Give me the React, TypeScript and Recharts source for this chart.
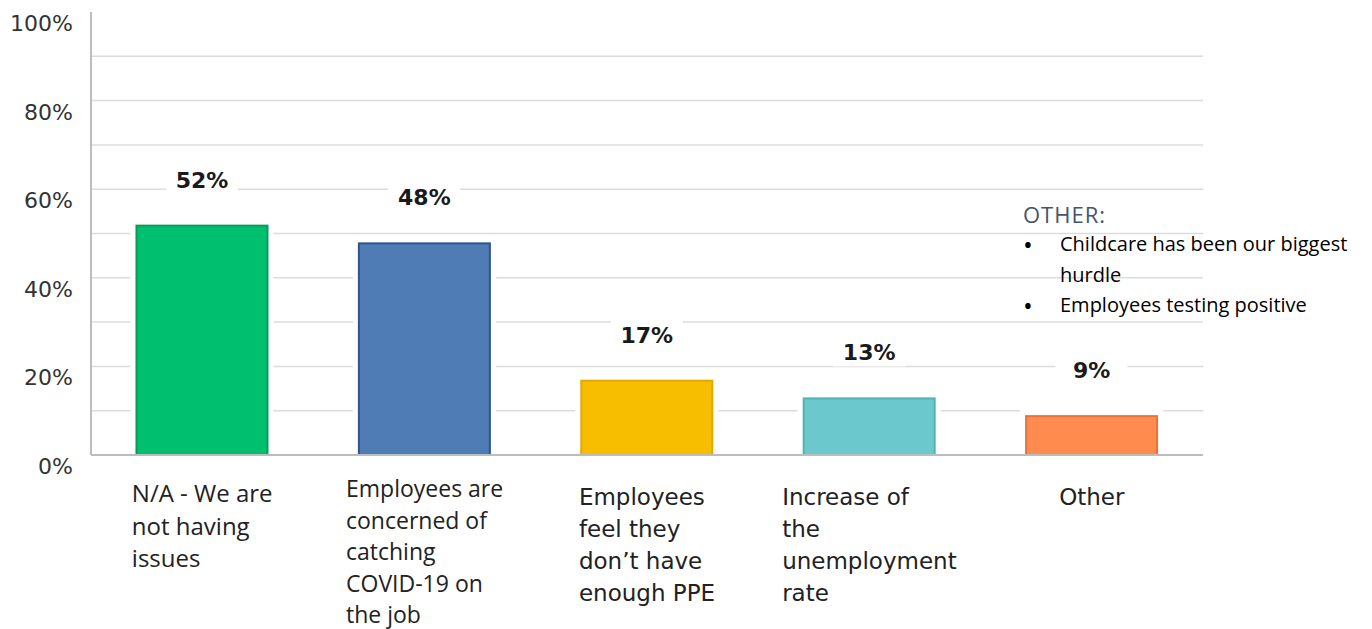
import React from 'react';
import {BarChart, Bar, XAxis, YAxis, CartesianGrid, LabelList} from 'recharts';

// answers, line breaks as in the original slide
const categories = [
    'N/A - We are\nnot having\nissues',
    'Employees are\nconcerned of\ncatching\nCOVID-19 on\nthe job',
    'Employees\nfeel they\ndon\u2019t have\nenough PPE',
    'Increase of\nthe\nunemployment\nrate',
    'Other',
];
const values = [52, 48, 17, 13, 9];
const yTicks = [0, 10, 20, 30, 40, 50, 60, 70, 80, 90, 100];
const gridValues = [10, 20, 30, 40, 50, 60, 70, 80, 90];
const otherTitle = 'OTHER:';
const otherNotes = ['Childcare has been our biggest hurdle', 'Employees testing positive'];

const barColors = ['#00BF6F', '#507CB6', '#F7BE00', '#6BC8CD', '#FF8B4F'];
const borderColors = ['#0A9B58', '#2D558F', '#E0A900', '#52B2B7', '#E8733A'];

// the slide mixes two label fonts
const OPEN = '"Open Sans", sans-serif';
const DEJA = '"DejaVu Sans", sans-serif';
const labelStyles = [
    {family: OPEN, size: 24, top: 47, step: 32.5},
    {family: OPEN, size: 23, top: 42, step: 31.5},
    {family: DEJA, size: 23, top: 50, step: 32},
    {family: DEJA, size: 23, top: 50, step: 32},
    {family: DEJA, size: 23, top: 50, step: 32},
];

const data = categories.map((name, i) => ({name, value: values[i]}));

let ctx: CanvasRenderingContext2D | null = null;
const measure = (text: string, font: string) => {
    if (!ctx) ctx = document.createElement('canvas').getContext('2d');
    if (!ctx) return text.length * 11;
    ctx.font = font;
    return ctx.measureText(text).width;
};

const YTick = (props: any) => {
    const {x, y, payload} = props;
    if (payload.value % 20 !== 0) return null;
    return (
        <text x={x} y={y + 19} textAnchor="end" fontSize={22} fill="#333" fontFamily={DEJA}>
            {payload.value}%
        </text>
    );
};

const XTick = (props: any) => {
    const {x, y, payload, index} = props;
    const lines = String(payload.value).split('\n');
    const st = labelStyles[index] || labelStyles[0];
    const widest = Math.max(...lines.map(l => measure(l, `${st.size}px ${st.family}`)));
    const left = x - widest / 2;
    return (
        <text x={left} y={y} fontSize={st.size} fill="#222" fontFamily={st.family}>
            {lines.map((l, i) => (
                <tspan key={i} x={left} y={y + st.top + i * st.step}>{l}</tspan>
            ))}
        </text>
    );
};

const BarShape = (props: any) => {
    const {x, y, width, height, index} = props;
    return (
        <g>
            <rect x={x - 5} y={y - 5} width={width + 10} height={height + 5} fill="#fff"/>
            <rect x={x + 1} y={y + 1} width={width - 2} height={height - 1}
                  fill={barColors[index]} stroke={borderColors[index]} strokeWidth={2}/>
        </g>
    );
};

const ValueLabel = (props: any) => {
    const {x, y, width, value} = props;
    const cx = x + width / 2;
    const cy = y - 45;
    return (
        <g>
            <rect x={cx - 36} y={cy - 14} width={72} height={28} fill="#fff"/>
            <text x={cx} y={cy + 8} textAnchor="middle" fontSize={22} fontWeight="bold"
                  fill="#1a1a1a" fontFamily={DEJA}>
                {value}%
            </text>
        </g>
    );
};

export default function App() {
    return (
        <div style={{position: 'absolute', left: 0, top: 0, width: 1372, height: 629, background: '#fff', overflow: 'hidden'}}>
            <BarChart width={1372} height={629} data={data} barCategoryGap="20%"
                      margin={{top: 12, right: 169, bottom: 0, left: 0}}>
                <CartesianGrid vertical={false} horizontalValues={gridValues} stroke="#dcdcdc" strokeWidth={1.5}/>
                <XAxis dataKey="name" height={174} interval={0} tickSize={0} tickMargin={0}
                       axisLine={{stroke: '#bdbdbd', strokeWidth: 2}} tick={<XTick/>}/>
                <YAxis width={91} domain={[0, 100]} ticks={yTicks} tickSize={0} tickMargin={18}
                       axisLine={{stroke: '#bdbdbd', strokeWidth: 2}} tickLine={false} tick={<YTick/>}/>
                <Bar dataKey="value" isAnimationActive={false} shape={<BarShape/>}>
                    <LabelList dataKey="value" content={<ValueLabel/>}/>
                </Bar>
            </BarChart>
            <div style={{position: 'absolute', left: 1023, top: 199, width: 349, fontFamily: OPEN}}>
                <div style={{fontSize: 22, color: '#44546A', fontWeight: 400, letterSpacing: 1, lineHeight: '30px'}}>
                    {otherTitle}
                </div>
                {otherNotes.map((note, i) => (
                    <div key={i} style={{display: 'flex', fontSize: 20, color: '#000', lineHeight: '30.5px'}}>
                        <span style={{width: 37, flex: 'none', fontSize: 26, lineHeight: '30.5px'}}>{'\u2022'}</span>
                        <span style={{width: 310}}>{note}</span>
                    </div>
                ))}
            </div>
        </div>
    );
}
